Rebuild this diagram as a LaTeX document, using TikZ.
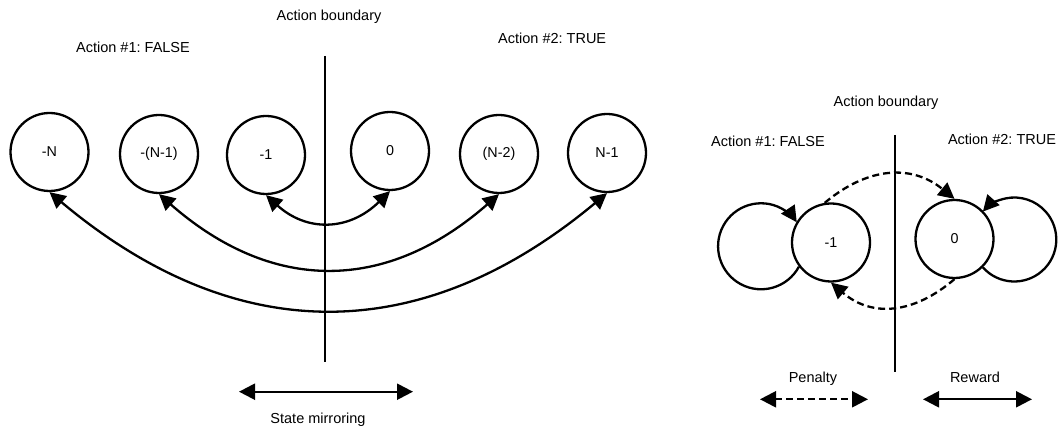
\documentclass[tikz,border=0pt]{standalone}
\usepackage{fontspec}
\setmainfont{Liberation Sans}
\usetikzlibrary{arrows.meta}
\frenchspacing
\begin{document}
\begin{tikzpicture}[x=1pt,y=1pt,
  state/.style={circle, draw, line width=2.3pt, minimum size=78pt, inner sep=0pt,
                font=\fontsize{14.3}{17}\selectfont},
  lbl/.style={font=\fontsize{14.5}{17}\selectfont, inner sep=0pt, anchor=base},
  bound/.style={line width=2.3pt},
  tip/.tip={Triangle[length=16pt,width=16pt]},
  link/.style={line width=2.3pt, tip-tip},
  fwd/.style={line width=2.3pt, -tip},
  dashln/.style={dash pattern=on 7pt off 4pt}
]
\useasboundingbox (0,0) rectangle (1061,428);

% ---- state mirroring: left half ----
\node[lbl] (bndL) at (329,407) {Action boundary};
\node[lbl] (a1L) at (133,375) {Action \#1: FALSE};
\node[lbl, anchor=base west] (a2L) at (498,384) {Action \#2: TRUE};

\coordinate (vtL) at (325,372);
\coordinate (vbL) at (325,66);
\draw[bound] (vtL) -- (vbL);

\node[state] (nN)   at (49.5,276) {-N};
\node[state] (nN1)  at (159,274)  {-(N-1)};
\node[state] (nm1)  at (266,273)  {-1};
\node[state] (n0)   at (390,277)  {0};
\node[state] (nN2)  at (499,274)  {(N-2)};
\node[state] (nNm1) at (607,275)  {N-1};

\draw[link] (nm1.south) .. controls +(41,-37) and +(-41,-40) .. (n0.south);
\draw[link] (nN1.south) .. controls +(113,-99) and +(-113,-99) .. (nN2.south);
\draw[link] (nN.south)  .. controls +(186,-156) and +(-186,-155) .. (nNm1.south);

\coordinate (smL) at (239,36.3);
\coordinate (smR) at (413,36.3);
\draw[link] (smL) -- (smR);
\node[lbl] (smT) at (318,4) {State mirroring};

% ---- reward / penalty: right half ----
\node[lbl] (bndR) at (886,321.3) {Action boundary};
\node[lbl] (a1R) at (768,281.3) {Action \#1: FALSE};
\node[lbl] (a2R) at (1002,283) {Action \#2: TRUE};

\coordinate (vtR) at (895,293);
\coordinate (vbR) at (895,56);
\draw[bound] (vtR) -- (vbR);

\node[state] (rm1) at (831,185.5) {-1};
\node[state] (r0)  at (954.5,189) {0};

% self loops
\draw[fwd] (rm1.217) arc[start angle=-28.3, end angle=-326.1, radius=43];
\draw[fwd] (r0.-45) arc[start angle=221.6, end angle=498.4, radius=42];

% crossings of the boundary
\draw[fwd, dashln] (rm1.99) .. controls +(43,36) and +(-43,35) .. (r0.north);
\draw[fwd, dashln] (r0.south) .. controls +(-41,-35) and +(41,-35) .. (rm1.south);

\node[lbl] (penT) at (813,45.3) {Penalty};
\coordinate (penL) at (760,28.7);
\coordinate (penR) at (868,28.7);
\draw[link, dashln] (penL) -- (penR);

\node[lbl] (rewT) at (975,45.3) {Reward};
\coordinate (rewL) at (923,28.7);
\coordinate (rewR) at (1032,28.7);
\draw[link] (rewL) -- (rewR);
\end{tikzpicture}
\end{document}
